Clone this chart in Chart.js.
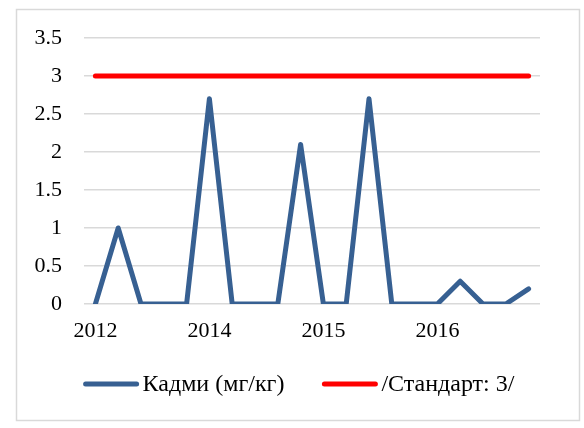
<!DOCTYPE html>
<html><head><meta charset="utf-8">
<script src="https://cdn.jsdelivr.net/npm/chart.js@4/dist/chart.umd.min.js"></script>
<style>html,body{margin:0;padding:0;background:#fff}#wrap{position:relative;width:584px;height:428px}</style>
</head><body><div id="wrap"><canvas id="c" width="584" height="428"></canvas></div>
<script>
// ---- data ----
const categories = ['2012','','','','','2014','','','','','2015','','','','','2016','','','',''];
const cadmium = [0, 1, 0, 0, 0, 2.7, 0, 0, 0, 2.1, 0, 0, 2.7, 0, 0, 0, 0.3, 0, 0, 0.2];
const standard = [3, 3, 3, 3, 3, 3, 3, 3, 3, 3, 3, 3, 3, 3, 3, 3, 3, 3, 3, 3];
const seriesNames = ['Кадми (мг/кг)', '/Стандарт: 3/'];
const yMin = 0, yMax = 3.5, yStep = 0.5;

const FONT = "'Liberation Serif', 'Times New Roman', serif";
const BLUE = '#376092', RED = '#ff0000';

const framePlugin = {
  id: 'frame',
  beforeDraw(chart) {
    const ctx = chart.ctx;
    ctx.save();
    ctx.fillStyle = '#fff';
    ctx.fillRect(0, 0, chart.width, chart.height);
    ctx.strokeStyle = '#d9d9d9';
    ctx.lineWidth = 1.5;
    ctx.strokeRect(16.5, 9.5, 563, 411);
    ctx.restore();
  }
};

const legendPlugin = {
  id: 'customLegend',
  afterDraw(chart) {
    const ctx = chart.ctx;
    ctx.save();
    ctx.font = '24px ' + FONT;
    const lineLen = 55, gap = 4, itemGap = 38;
    const ds = chart.data.datasets;
    const widths = ds.map(d => ctx.measureText(d.label).width);
    let total = 0;
    widths.forEach((w, i) => { total += lineLen + gap + w + (i < widths.length - 1 ? itemGap : 0); });
    let x = 299 - total / 2;
    const y = 384;
    ds.forEach((d, i) => {
      ctx.strokeStyle = d.borderColor;
      ctx.lineWidth = 5;
      ctx.lineCap = 'round';
      ctx.beginPath();
      ctx.moveTo(x + 2, y);
      ctx.lineTo(x + lineLen - 2, y);
      ctx.stroke();
      ctx.fillStyle = '#000';
      ctx.textBaseline = 'middle';
      ctx.textAlign = 'left';
      ctx.fillText(d.label, x + lineLen + gap, y + 1);
      x += lineLen + gap + widths[i] + itemGap;
    });
    ctx.restore();
  }
};

new Chart(document.getElementById('c'), {
  type: 'line',
  data: {
    labels: categories,
    datasets: [
      { label: seriesNames[0], data: cadmium, borderColor: BLUE, backgroundColor: BLUE,
        borderWidth: 5, pointRadius: 0, tension: 0, borderCapStyle: 'round', borderJoinStyle: 'round', fill: false },
      { label: seriesNames[1], data: standard, borderColor: RED, backgroundColor: RED,
        borderWidth: 5, pointRadius: 0, tension: 0, borderCapStyle: 'round', borderJoinStyle: 'round', fill: false }
    ]
  },
  options: {
    responsive: false,
    animation: false,
    devicePixelRatio: 1,
    layout: { padding: { left: 0, right: 44, top: 38, bottom: 74 } },
    plugins: { legend: { display: false }, tooltip: { enabled: false } },
    scales: {
      x: {
        type: 'category',
        offset: true,
        grid: { display: false, drawTicks: false },
        border: { display: false },
        ticks: { autoSkip: false, maxRotation: 0, minRotation: 0, padding: 14, color: '#000',
                 font: { family: FONT, size: 22 } },
        afterFit(s) { s.height = 50; }
      },
      y: {
        min: yMin, max: yMax,
        grid: { color: '#d9d9d9', lineWidth: 1.5, drawTicks: false },
        border: { display: false },
        ticks: { stepSize: yStep, padding: 22, color: '#000', font: { family: FONT, size: 22 },
                 callback: v => String(v) },
        afterFit(s) { s.width = 84; }
      }
    }
  },
  plugins: [framePlugin, legendPlugin]
});
</script>
</body></html>
